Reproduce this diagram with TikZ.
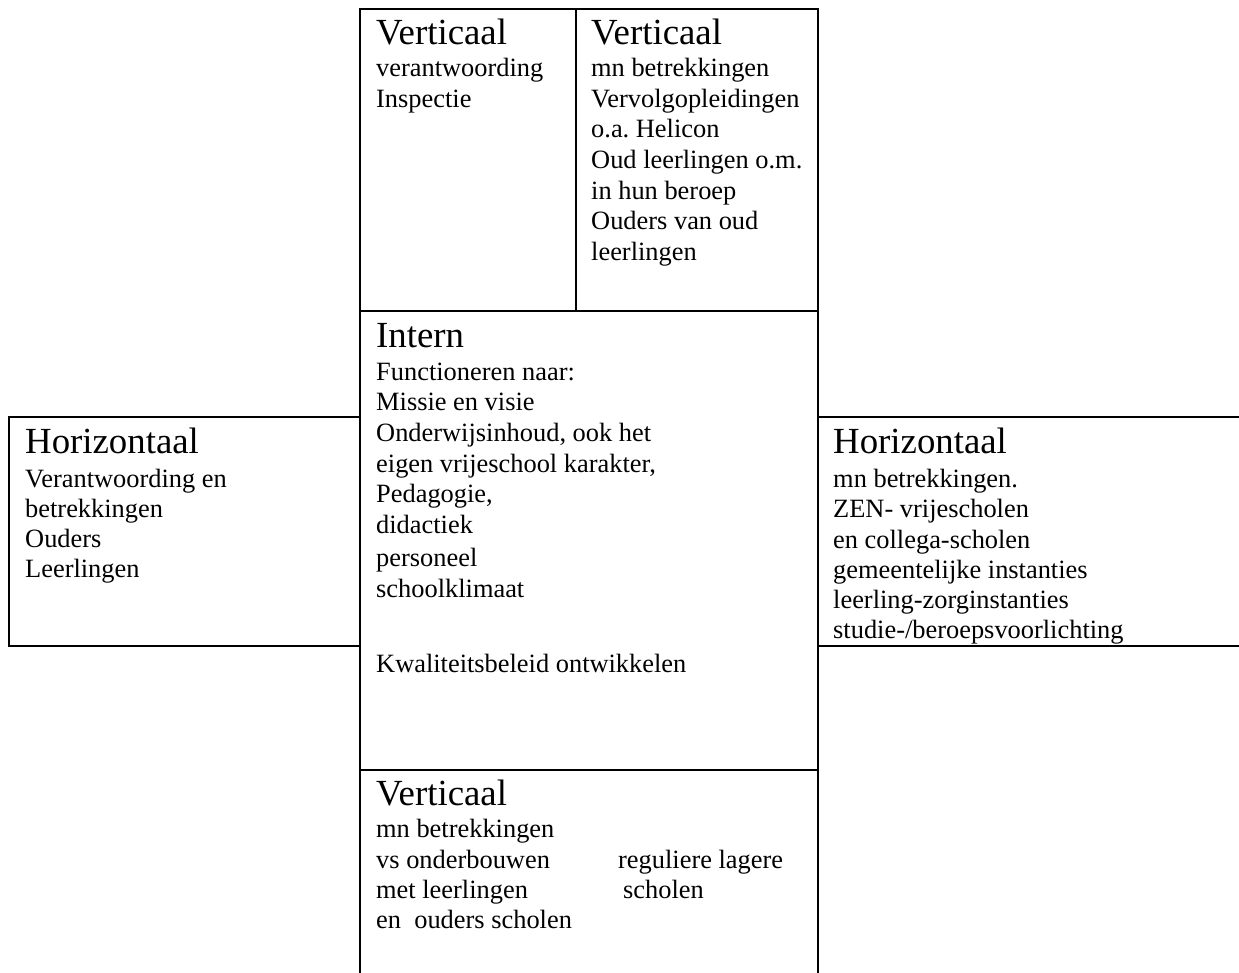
\documentclass[tikz,border=0pt]{standalone}
\usepackage{fontspec}
\setmainfont{Liberation Serif}
\frenchspacing
\begin{document}
\begin{tikzpicture}[x=1pt,y=-1pt,
  frame/.style={line width=2.3pt,black},
  ttl/.style={inner sep=0pt,anchor=base west,font=\fontsize{36.8}{40}\selectfont},
  txt/.style={inner sep=0pt,anchor=base west,font=\fontsize{26.4}{30}\selectfont}]
\useasboundingbox (0,0) rectangle (1239,973);
% frames
\draw[frame] (360,973) -- (360,9) -- (818,9) -- (818,973);
\draw[frame] (576,9) -- (576,311);
\draw[frame] (360,311) -- (818,311);
\draw[frame] (360,770) -- (818,770);
\draw[frame] (360,417) -- (9,417) -- (9,646) -- (360,646);
\draw[frame] (818,417) -- (1239,417);
\draw[frame] (818,646) -- (1239,646);
% top left
\node[ttl] (tlT) at (376,45) {Verticaal};
\node[txt] (tl1) at (376,77) {verantwoording};
\node[txt] (tl2) at (376,108) {Inspectie};
% top right
\node[ttl] (trT) at (591,45) {Verticaal};
\node[txt] (tr1) at (591,77) {mn betrekkingen};
\node[txt] (tr2) at (591,108) {Vervolgopleidingen};
\node[txt] (tr3) at (591,138) {o.a. Helicon};
\node[txt] (tr4) at (591,169) {Oud leerlingen o.m.};
\node[txt] (tr5) at (591,200) {in hun beroep};
\node[txt] (tr6) at (591,230) {Ouders van oud};
\node[txt] (tr7) at (591,261) {leerlingen};
% center
\node[ttl] (cT) at (376,348) {Intern};
\node[txt] (c1) at (376,380) {Functioneren naar:};
\node[txt] (c2) at (376,410) {Missie en visie};
\node[txt] (c3) at (376,441) {Onderwijsinhoud, ook het};
\node[txt] (c4) at (376,472) {eigen vrijeschool karakter,};
\node[txt] (c5) at (376,502) {Pedagogie,};
\node[txt] (c6) at (376,533) {didactiek};
\node[txt] (c7) at (376,566) {personeel};
\node[txt] (c8) at (376,597) {schoolklimaat};
\node[txt] (c9) at (376,672) {Kwaliteitsbeleid ontwikkelen};
% left
\node[ttl] (lT) at (25,453) {Horizontaal};
\node[txt] (l1) at (25,487) {Verantwoording en};
\node[txt] (l2) at (25,517) {betrekkingen};
\node[txt] (l3) at (25,547) {Ouders};
\node[txt] (l4) at (25,577) {Leerlingen};
% right
\node[ttl] (rT) at (833,453) {Horizontaal};
\node[txt] (r1) at (833,487) {mn betrekkingen.};
\node[txt] (r2) at (833,517) {ZEN- vrijescholen};
\node[txt] (r3) at (833,548) {en collega-scholen};
\node[txt] (r4) at (833,578) {gemeentelijke instanties};
\node[txt] (r5) at (833,608) {leerling-zorginstanties};
\node[txt] (r6) at (833,638) {studie-/beroepsvoorlichting};
% bottom
\node[ttl] (bT) at (376,805) {Verticaal};
\node[txt] (b1) at (376,837) {mn betrekkingen};
\node[txt] (b2) at (376,868) {vs onderbouwen};
\node[txt] (b3) at (376,898) {met leerlingen};
\node[txt] (b4) at (376,928) {en\ \ ouders scholen};
\node[txt] (b5) at (618,868) {reguliere lagere};
\node[txt] (b6) at (623,898) {scholen};
\end{tikzpicture}
\end{document}
